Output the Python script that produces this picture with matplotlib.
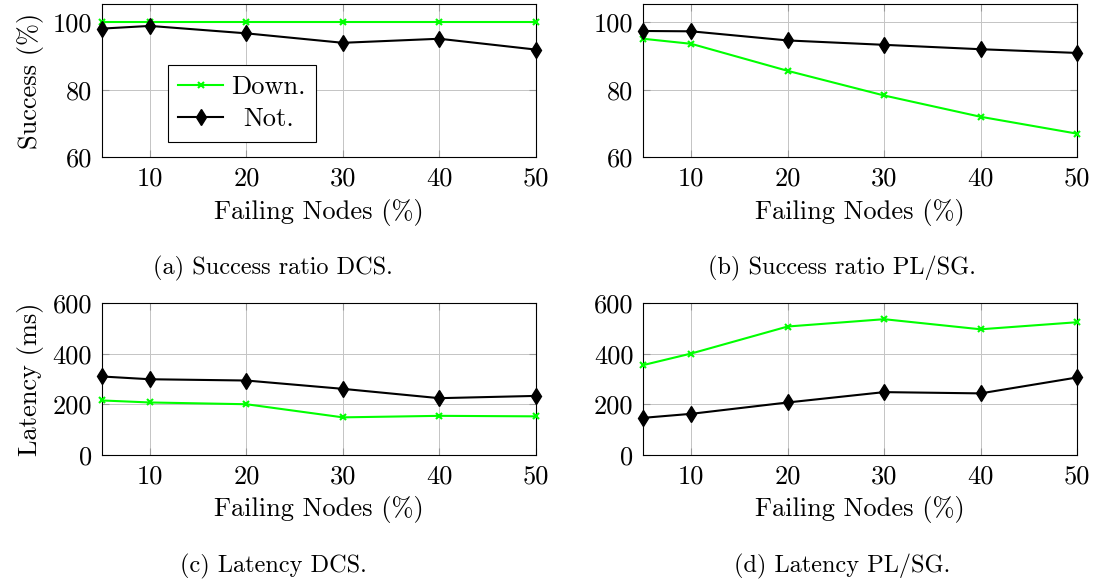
import matplotlib
matplotlib.use("Agg")
import matplotlib.pyplot as plt

# --- DATA ---
failing = [5, 10, 20, 30, 40, 50]

succ_dcs_down = [100, 100, 100, 100, 100, 100]
succ_dcs_not = [98.1, 98.9, 96.7, 93.9, 95.1, 91.9]

succ_plsg_down = [95.1, 93.6, 85.6, 78.3, 72.0, 67.0]
succ_plsg_not = [97.4, 97.3, 94.6, 93.3, 92.0, 90.9]

lat_dcs_down = [215, 207, 200, 148, 154, 152]
lat_dcs_not = [310, 299, 294, 261, 224, 233]

lat_plsg_down = [355, 401, 508, 537, 497, 525]
lat_plsg_not = [146, 162, 207, 248, 243, 306]

captions = ["(a) Success ratio DCS.", "(b) Success ratio PL/SG.",
            "(c) Latency DCS.", "(d) Latency PL/SG."]

# --- STYLE ---
plt.rcParams["font.family"] = "serif"
plt.rcParams["font.serif"] = ["cmr10"]
plt.rcParams["mathtext.fontset"] = "cm"
plt.rcParams["axes.unicode_minus"] = False

FS = 19
CAP_FS = 17.5
GREEN = "#00ff00"

fig = plt.figure(figsize=(10.94, 5.80), dpi=100)

W = 434 / 1094
H_TOP = 153 / 580
H_BOT = 151.4 / 580
positions = [
    [101.7 / 1094, 1 - 157.3 / 580, W, H_TOP],
    [643.0 / 1094, 1 - 157.3 / 580, W, H_TOP],
    [101.7 / 1094, 1 - 454.7 / 580, W, H_BOT],
    [643.0 / 1094, 1 - 454.7 / 580, W, H_BOT],
]

panels = [
    (succ_dcs_down, succ_dcs_not, (60, 105.3), [60, 80, 100], "Success (%)"),
    (succ_plsg_down, succ_plsg_not, (60, 105.3), [60, 80, 100], None),
    (lat_dcs_down, lat_dcs_not, (0, 600), [0, 200, 400, 600], "Latency (ms)"),
    (lat_plsg_down, lat_plsg_not, (0, 600), [0, 200, 400, 600], None),
]

axes = []
for pos, (down, notd, ylim, yticks, ylabel) in zip(positions, panels):
    ax = fig.add_axes(pos)
    ax.plot(failing, down, color=GREEN, lw=1.5, marker="x", ms=5, mew=1.5,
            label="Down.", clip_on=False, zorder=3)
    ax.plot(failing, notd, color="black", lw=1.5, marker="d", ms=8.5,
            label="Not.", clip_on=False, zorder=4)
    ax.set_xlim(5, 50)
    ax.set_ylim(*ylim)
    ax.set_xticks([10, 20, 30, 40, 50])
    ax.set_yticks(yticks)
    ax.grid(True, color="#c4c4c4", lw=0.7)
    ax.set_axisbelow(True)
    ax.tick_params(direction="in", top=True, right=True, length=5,
                   color="#999999", labelsize=FS, pad=7)
    for sp in ax.spines.values():
        sp.set_linewidth(0.8)
    ax.set_xlabel("Failing Nodes (%)", fontsize=FS, labelpad=6)
    if ylabel:
        ax.set_ylabel(ylabel, fontsize=FS, labelpad=6)
    axes.append(ax)

leg = axes[0].legend(loc="lower left", bbox_to_anchor=(0.152, 0.102),
                     borderaxespad=0, prop={"family": "cmr10", "size": FS},
                     frameon=True, fancybox=False, edgecolor="black",
                     framealpha=1, handlelength=1.7, handletextpad=0.3,
                     borderpad=0.4, labelspacing=0.32)
leg.get_frame().set_linewidth(0.8)

# center the legend entries like pgfplots does
fig.canvas.draw()
texts = leg.get_texts()
widths = [t.get_window_extent().width for t in texts]
maxw = max(widths)
for t, w in zip(texts, widths):
    t.set_x((maxw - w) / 2)

# subfigure captions
fig.text(273 / 1094, 1 - 268 / 580, captions[0], fontsize=CAP_FS, ha="center", va="center")
fig.text(842 / 1094, 1 - 268 / 580, captions[1], fontsize=CAP_FS, ha="center", va="center")
fig.text(273 / 1094, 1 - 566 / 580, captions[2], fontsize=CAP_FS, ha="center", va="center")
fig.text(842 / 1094, 1 - 566 / 580, captions[3], fontsize=CAP_FS, ha="center", va="center")

fig.savefig("out.png", dpi=100)
